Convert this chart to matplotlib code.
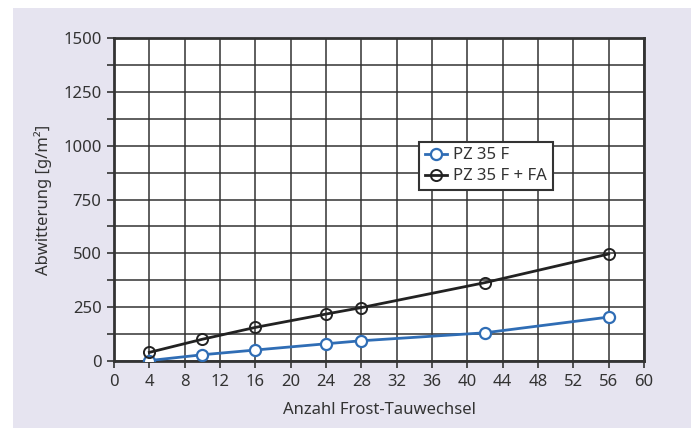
import numpy as np
import matplotlib.pyplot as plt

# Anzahl Frost-Tauwechsel
zyklen = [4, 10, 16, 24, 28, 42, 56]
# Abwitterung in g/m2
pz35f = [2, 29, 51, 80, 94, 131, 204]
pz35f_fa = [40, 101, 156, 218, 248, 364, 497]

xticks = np.arange(0, 61, 4)
yticks = np.arange(0, 1501, 250)

plt.rcParams['font.family'] = ['Noto Sans', 'DejaVu Sans']
textcol = '#333333'

fig = plt.figure(figsize=(6.91, 4.28), dpi=100)
fig.patch.set_facecolor('white')
# lavender panel behind the chart
fig.patches.append(plt.Rectangle((13 / 691, 0), 1 - 13 / 691, 1 - 8 / 428,
                                 transform=fig.transFigure, facecolor='#e6e4f0',
                                 edgecolor='none', zorder=-10))

ax = fig.add_axes([114 / 691, 1 - 361 / 428, 530 / 691, 323 / 428])
ax.set_facecolor('white')

ax.plot(zyklen, pz35f, color='#2f6db5', lw=2, marker='o', ms=8,
        mfc='white', mec='#2f6db5', mew=1.6, label='PZ 35 F', zorder=5)
ax.plot(zyklen, pz35f_fa, color='#222222', lw=2, marker='o', ms=8,
        mfc='none', mec='#222222', mew=1.4, label='PZ 35 F + FA', zorder=5)

ax.set_xlim(0, 60)
ax.set_ylim(0, 1500)
ax.set_xticks(xticks)
ax.set_yticks(yticks)
ax.set_yticks(np.arange(125, 1500, 250), minor=True)
ax.grid(True, which='both', color='#333333', lw=1.1)
ax.set_axisbelow(True)

for s in ax.spines.values():
    s.set_color('#333333')
    s.set_linewidth(2)

ax.tick_params(which='both', direction='out', length=5, width=1.2,
               color='#333333', labelsize=12, labelcolor=textcol, pad=4)
ax.tick_params(axis='y', which='minor', length=5)

ax.set_xlabel('Anzahl Frost-Tauwechsel', fontsize=12, color=textcol, labelpad=9)
ax.set_ylabel('Abwitterung [g/m²]', fontsize=12, color=textcol, labelpad=8)

leg = ax.legend(loc='upper left', bbox_to_anchor=(0.560, 0.705), fontsize=12,
                frameon=True, fancybox=False, handlelength=1.3,
                handletextpad=0.4, borderpad=0.35, labelspacing=0.3)
leg.get_frame().set_edgecolor('#333333')
leg.get_frame().set_linewidth(1.5)
leg.get_frame().set_alpha(1)
for t in leg.get_texts():
    t.set_color(textcol)

plt.savefig('out.png', dpi=100)
